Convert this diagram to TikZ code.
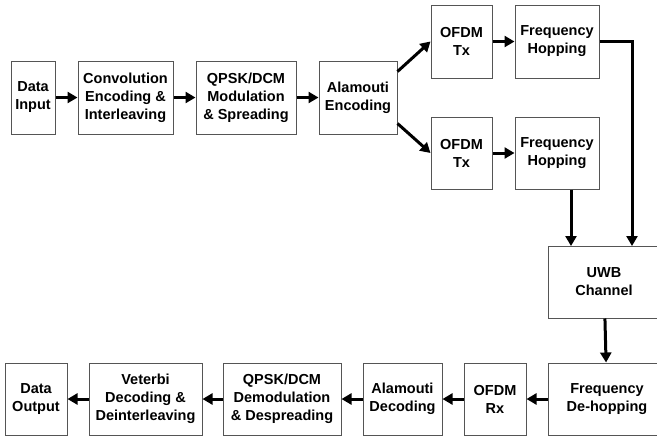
\documentclass[tikz,border=0pt]{standalone}
\usepackage{fontspec}
\setmainfont{Liberation Sans}
\usetikzlibrary{arrows.meta}
\usetikzlibrary{calc}
\definecolor{boxline}{RGB}{85,85,85}
\tikzset{blk/.style={draw=boxline,line width=1pt,align=center,inner sep=0pt,
           font=\fontsize{14.5}{18}\selectfont\bfseries},
         arr/.style={line width=3pt,-{Triangle[length=10pt,width=11pt]}}
         }

\begin{document}
\begin{tikzpicture}[x=1pt,y=-1pt]
        \useasboundingbox (0,0) rectangle (657,440);
        \clip (0,0) rectangle (657,440);
        % transmitter
        \node[blk, minimum width=44pt, minimum height=73pt] (din) at (33,97.5) {Data\\Input};
        \node[blk, minimum width=95pt, minimum height=73pt] (conv) at (125.5,97.5) {Convolution\\Encoding \&\\Interleaving};
        \node[blk, minimum width=100pt, minimum height=73pt] (qpsk) at (246,97.5) {QPSK/DCM\\Modulation\\\& Spreading};
        \node[blk, minimum width=78pt, minimum height=73pt] (alaenc) at (358,97.5) {Alamouti\\Encoding};
        \node[blk, minimum width=61pt, minimum height=73pt] (ofdmA) at (461.5,41.5) {OFDM\\Tx};
        \node[blk, minimum width=84pt, minimum height=73pt] (hopA) at (557,41.5) {Frequency\\Hopping};
        \node[blk, minimum width=61pt, minimum height=72pt] (ofdmB) at (461.5,153) {OFDM\\Tx};
        \node[blk, minimum width=84pt, minimum height=72pt] (hopB) at (557,153) {Frequency\\Hopping};
        % channel
        \node[blk, minimum width=112pt, minimum height=72pt] (uwb) at (604,282) {UWB\\Channel};
        % receiver
        \node[blk, minimum width=118pt, minimum height=72pt] (dehop) at (607,399) {Frequency\\De-hopping};
        \node[blk, minimum width=62pt, minimum height=72pt] (ofdmrx) at (495,399) {OFDM\\Rx};
        \node[blk, minimum width=79pt, minimum height=72pt] (aladec) at (402.5,399) {Alamouti\\Decoding};
        \node[blk, minimum width=118pt, minimum height=72pt] (qpskd) at (282,399) {QPSK/DCM\\Demodulation\\\& Despreading};
        \node[blk, minimum width=113pt, minimum height=72pt] (veterbi) at (145.5,399) {Veterbi\\Decoding \&\\Deinterleaving};
        \node[blk, minimum width=62pt, minimum height=72pt] (dout) at (36,399) {Data\\Output};

        \coordinate (inA) at (632,246);
        \coordinate (inB) at (571,246);

        \draw[arr] (din) -- (conv);
        \draw[arr] (conv) -- (qpsk);
        \draw[arr] (qpsk) -- (alaenc);
        \draw[arr] ($(alaenc.north east)+(0,11)$) -- (ofdmA.west);
        \draw[arr] ($(alaenc.south east)+(0,-11)$) -- (ofdmB.west);
        \draw[arr] (ofdmA) -- (hopA);
        \draw[arr] (ofdmB) -- (hopB);
        \draw[arr] (hopA.east) -| (inA);
        \draw[arr] (hopB.south -| inB) -- (inB);
        \draw[arr] (uwb) -- (dehop);
        \draw[arr] (dehop) -- (ofdmrx);
        \draw[arr] (ofdmrx) -- (aladec);
        \draw[arr] (aladec) -- (qpskd);
        \draw[arr] (qpskd) -- (veterbi);
        \draw[arr] (veterbi) -- (dout);
\end{tikzpicture}
\end{document}
